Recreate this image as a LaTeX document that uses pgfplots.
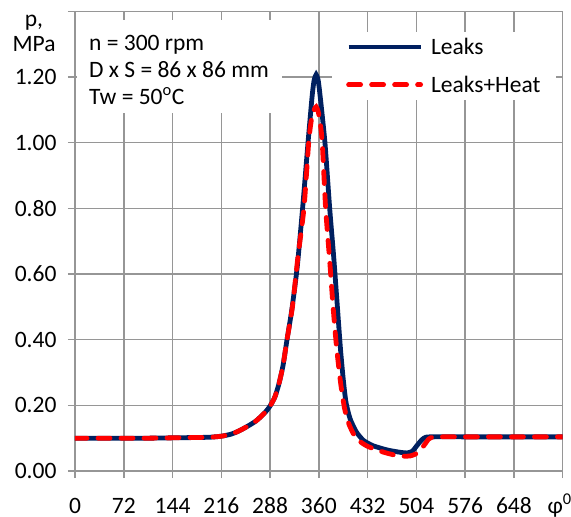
\documentclass[border=0pt]{standalone}
\usepackage{fontspec}
\setmainfont{Carlito}
\usepackage{pgfplots}
\pgfplotsset{compat=1.18}
\definecolor{navy}{RGB}{0,32,96}
\definecolor{lred}{RGB}{255,0,0}
\definecolor{gridgray}{RGB}{150,150,150}
\newcommand\bigf{\fontsize{23.5bp}{28bp}\selectfont}
\begin{document}
\begin{tikzpicture}
\path[use as bounding box] (-75bp,-46bp) rectangle (496bp,471bp);
\begin{axis}[
  at={(0,0)}, anchor=south west,
  scale only axis, width=487.7bp, height=459.7bp,
  xmin=0, xmax=720, ymin=0, ymax=1.4,
  xtick={0,72,144,216,288,360,432,504,576,648,720},
  xticklabels={0,72,144,216,288,360,432,504,576,648,\hspace*{-6bp}φ\textsuperscript{0}},
  ytick={0,0.2,0.4,0.6,0.8,1.0,1.2,1.4},
  yticklabels={0.00,0.20,0.40,0.60,0.80,1.00,1.20,},
  xtick pos=bottom, ytick pos=left,
  tick align=outside, major tick length=7bp,
  grid=major,
  grid style={draw=gridgray, line width=1.5bp},
  axis line style={draw=gridgray, line width=1.5bp},
  tick style={draw=gridgray, line width=1.5bp},
  tick label style={font=\bigf},
  xticklabel style={anchor=base, yshift=-35bp},
  yticklabel style={xshift=-8bp},
  legend style={draw=none, fill=white, at={(0.527,0.955)}, anchor=north west,
    inner xsep=14bp, inner ysep=4bp, font=\bigf, row sep=16bp},
  legend cell align=left,
  legend image code/.code={\draw[#1] (0bp,0bp) -- (72bp,0bp); \path (78bp,0bp);},
]
\addplot[navy, line width=4.8bp, smooth, tension=0.4] coordinates {
(0,0.100) (36,0.100) (72,0.100) (108,0.100) (144,0.101) (180,0.102) (200,0.103)
(216,0.106) (230,0.112) (240,0.120) (252,0.133) (267,0.152) (280,0.177) (288,0.198)
(295,0.225) (301,0.265) (307,0.32) (313,0.40) (320,0.49) (328,0.62) (336,0.80) (344,1.00)
(350,1.14) (353,1.19) (356,1.207) (359,1.19) (362,1.14) (369,1.00) (376,0.80)
(382,0.65) (387,0.51) (392,0.37) (396,0.28) (400,0.21) (406,0.16) (415,0.12)
(426,0.093) (440,0.077) (461,0.064) (480,0.057) (490,0.055) (498,0.060) (505,0.078)
(512,0.095) (518,0.103) (530,0.104) (576,0.104) (648,0.104) (720,0.104)
};
\addlegendentry{Leaks}
\addplot[lred, line width=4.8bp, line cap=round, dash pattern=on 12bp off 11bp, smooth, tension=0.4] coordinates {
(0,0.100) (36,0.100) (72,0.100) (108,0.100) (144,0.101) (180,0.102) (200,0.103)
(216,0.106) (230,0.112) (240,0.120) (252,0.133) (267,0.152) (280,0.177) (288,0.198)
(295,0.225) (301,0.265) (307,0.32) (313,0.40) (321,0.50) (329,0.65) (338,0.80) (345,1.00)
(349,1.07) (353,1.10) (356,1.109) (359,1.095) (362,1.06) (365,1.00) (370,0.80)
(376,0.64) (381,0.50) (386,0.38) (392,0.27) (398,0.19) (404,0.145) (412,0.11)
(422,0.088) (432,0.075) (441,0.068) (456,0.057) (471,0.049) (485,0.045) (495,0.046)
(503,0.052) (510,0.065) (516,0.080) (522,0.097) (528,0.103) (540,0.104) (576,0.104)
(648,0.104) (720,0.104)
};
\addlegendentry{Leaks+Heat}
\node[fill=white, inner sep=0, minimum width=205bp, minimum height=93bp, anchor=north west] at (axis cs:2,1.374) {};
\node[anchor=base west, inner sep=0, font=\bigf] at (axis cs:20.7,1.282) {n = 300 rpm};
\node[anchor=base west, inner sep=0, font=\bigf] at (axis cs:20.7,1.197) {D x S = 86 x 86 mm};
\node[anchor=base west, inner sep=0, font=\bigf] at (axis cs:20.7,1.115) {Tw = 50\textsuperscript{o}C};
\end{axis}
\node[anchor=base, inner sep=0, font=\bigf] at (-41bp,444.7bp) {p,};
\node[anchor=base, inner sep=0, font=\bigf] at (-41bp,419.7bp) {MPa};
\end{tikzpicture}
\end{document}
